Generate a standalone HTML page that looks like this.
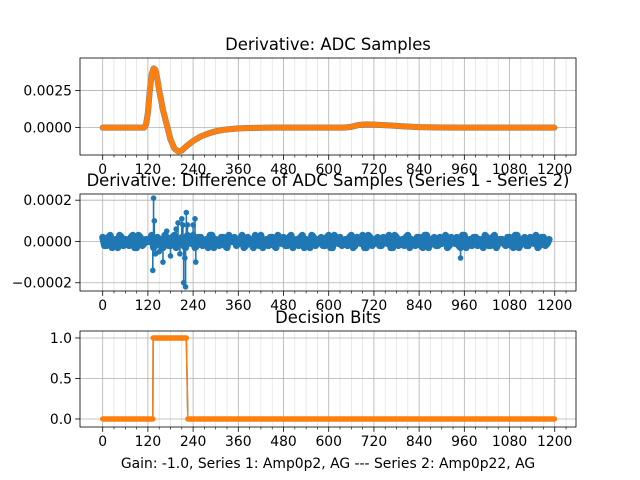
<!DOCTYPE html>
<html><head><meta charset="utf-8"><style>
body{margin:0;background:#fff}
svg{display:block;font-family:"DejaVu Sans","Liberation Sans",sans-serif}
</style></head><body>
<svg id="fig" width="640" height="480" viewBox="0 0 640 480"></svg>
<script>
// ---- data ----
const xTicks=[0,120,240,360,480,600,720,840,960,1080,1200];
const adcX=[0,20,40,60,80,100,110,115,120,125,130,135,140,145,150,160,170,180,190,200,210,220,230,240,260,280,300,320,340,360,400,450,500,550,600,640,660,680,700,720,760,800,840,900,950,1000,1100,1199];
const adcY=[0,0,0,0,0,0,0,0.0002,0.0010,0.0025,0.0036,0.0040,0.0039,0.0033,0.0025,0.0012,0.0002,-0.0008,-0.0014,-0.0016,-0.00155,-0.0013,-0.0011,-0.0009,-0.0006,-0.0004,-0.00025,-0.00015,-0.0001,-0.00005,-0.00002,0,0,0,0,0,0.00005,0.00018,0.00022,0.0002,0.00015,0.00008,0.00003,0.00001,0,0,0,0];
const adcTickVals=[0,0.0025];
const adcTickLabels=["0.0000","0.0025"];
const diffNoise=[2,-2,3,-1,-3,2,1,-2,3,-3,2,-1,0,3,-2,1,-3,2,-2,3,-1,2,-3,1,3,-2,2,-1,-3,3,1,-2,2,-3,0,2,-1,3,-2,1,-3,2,3,-1,-2,2,-3,1,2,-2,3,-1,-2,3,1,-3,2,-1,2,-2,3,-3,1,2,-1,-2,3,-2,1,3,-3,2,-1,2,-2,1,3,-3,2,-1,-2,3,1,-2,2,-3,3,-1,2,-2,-1,3,-2,1,2,-3,3,-1,-2,2,1,-3,2,-2,3,-1,1,-2,2,-3,3,-1,2,-2,1,3,-2,2,-1];
const diffSpikeX=[133,135,137,140,150,160,170,180,195,200,205,210,213,215,218,220,222,225,240,245,247,950];
const diffSpikeY=[-0.00014,0.00021,0.0001,-0.00006,-0.00005,-0.0001,0.00005,-0.00007,0.00006,0.00009,-0.00006,0.00011,0.00008,-0.0002,-0.00008,-0.00022,0.00014,0.00008,0.00008,0.00011,-0.0001,-0.00008];
const diffTickVals=[-0.0002,0,0.0002];
const diffTickLabels=["\u22120.0002","0.0000","0.0002"];
const bitsX=[0,133,134,222,226,1199];
const bitsY=[0,0,1,1,0,0];
const bitsTickVals=[0,0.5,1];
const bitsTickLabels=["0.0","0.5","1.0"];

const NS="http://www.w3.org/2000/svg";
const fig=document.getElementById('fig');
function mk(tag,attrs,parent){const e=document.createElementNS(NS,tag);for(const k in attrs)e.setAttribute(k,attrs[k]);(parent||fig).appendChild(e);return e;}
const L=80,R=576;
const xs=v=>102.7+v*0.3767;

function axes(name,top,bot,ymin,ymax,tv,tl,title){
  const g=mk('g',{});
  
  
  const ys=v=>bot-(v-ymin)/(ymax-ymin)*(bot-top);
  for(let v=0;v<=1230;v+=30){if(v%120===0)continue;const x=xs(v);
    const m=mk('line',{x1:x,x2:x,y1:top,y2:bot,stroke:'#dcdcdc','stroke-width':0.6},g);
    
    mk('line',{x1:x,x2:x,y1:bot,y2:bot+2.5,stroke:'#000','stroke-width':0.6},g);}
  xTicks.forEach(v=>{const x=xs(v);
    const gl=mk('line',{x1:x,x2:x,y1:top,y2:bot,stroke:'#b0b0b0','stroke-width':0.8},g);
    
    mk('line',{x1:x,x2:x,y1:bot,y2:bot+4.9,stroke:'#000','stroke-width':0.8},g);
    const t=mk('text',{x:x,y:bot+19,'text-anchor':'middle','font-size':13.9},g);t.textContent=v;
    });
  tv.forEach((v,i)=>{const y=ys(v);
    const gl=mk('line',{x1:L,x2:R,y1:y,y2:y,stroke:'#b0b0b0','stroke-width':0.8},g);
    
    mk('line',{x1:L-4.9,x2:L,y1:y,y2:y,stroke:'#000','stroke-width':0.8},g);
    const t=mk('text',{x:L-8,y:y+5,'text-anchor':'end','font-size':13.9},g);t.textContent=tl[i];
    });
  const tt=mk('text',{x:(L+R)/2,y:top-8,'text-anchor':'middle','font-size':16.4},g);tt.textContent=title;
  
  return {g,ys,top,bot};
}
function frame(a){const r=mk('rect',{x:L,y:a.top,width:R-L,height:a.bot-a.top,fill:'none',stroke:'#000','stroke-width':0.8},a.g);
  }
function series(a,X,Y,color,w,name){
  const pts=X.map((x,i)=>xs(x).toFixed(2)+','+a.ys(Y[i]).toFixed(2)).join(' ');
  const p=mk('polyline',{points:pts,fill:'none',stroke:color,'stroke-width':w,'stroke-linejoin':'round','stroke-linecap':'round'},a.g);
  
}

// subplot 1
const a1=axes('adc-samples-plot',58,155,-0.00185,0.0047,adcTickVals,adcTickLabels,'Derivative: ADC Samples');
series(a1,adcX,adcY,'#1f77b4',6,'series-1-line');
series(a1,adcX,adcY,'#ff7f0e',5.5,'series-2-line');
frame(a1);

// subplot 2
const a2=axes('difference-plot',194,291,-0.00024,0.00023,diffTickVals,diffTickLabels,'Derivative: Difference of ADC Samples (Series 1 - Series 2)');
diffSpikeX.forEach((x,i)=>{
  const l=mk('line',{x1:xs(x),x2:xs(x),y1:a2.ys(0),y2:a2.ys(diffSpikeY[i]),stroke:'#1f77b4','stroke-width':1.6},a2.g);
  
  const c=mk('circle',{cx:xs(x),cy:a2.ys(diffSpikeY[i]),r:2.8,fill:'#1f77b4'},a2.g);
  
});
const dX=[],dY=[];
diffNoise.forEach((n,i)=>{dX.push(i*10);dY.push(n*0.00001);dX.push(i*10+5);dY.push(-n*0.00001);});
series(a2,dX,dY,'#1f77b4',7,'difference-band');
frame(a2);

// subplot 3
const a3=axes('decision-bits-plot',331,427,-0.099,1.086,bitsTickVals,bitsTickLabels,'Decision Bits');
series(a3,bitsX,bitsY,'#1f77b4',1.5,'bits-series-1');
series(a3,bitsX,bitsY,'#ff7f0e',1.5,'bits-series-2');
for(let i=0;i<bitsX.length-1;i++){
  if(bitsY[i]===bitsY[i+1]){
    const s=mk('line',{x1:xs(bitsX[i]),x2:xs(bitsX[i+1]),y1:a3.ys(bitsY[i]),y2:a3.ys(bitsY[i]),stroke:'#ff7f0e','stroke-width':5.5,'stroke-linecap':'round'},a3.g);
    
  }
}
frame(a3);

const xl=mk('text',{x:328,y:468,'text-anchor':'middle','font-size':13.9});
xl.textContent='Gain: -1.0, Series 1: Amp0p2, AG --- Series 2: Amp0p22, AG';

</script>
</body></html>
